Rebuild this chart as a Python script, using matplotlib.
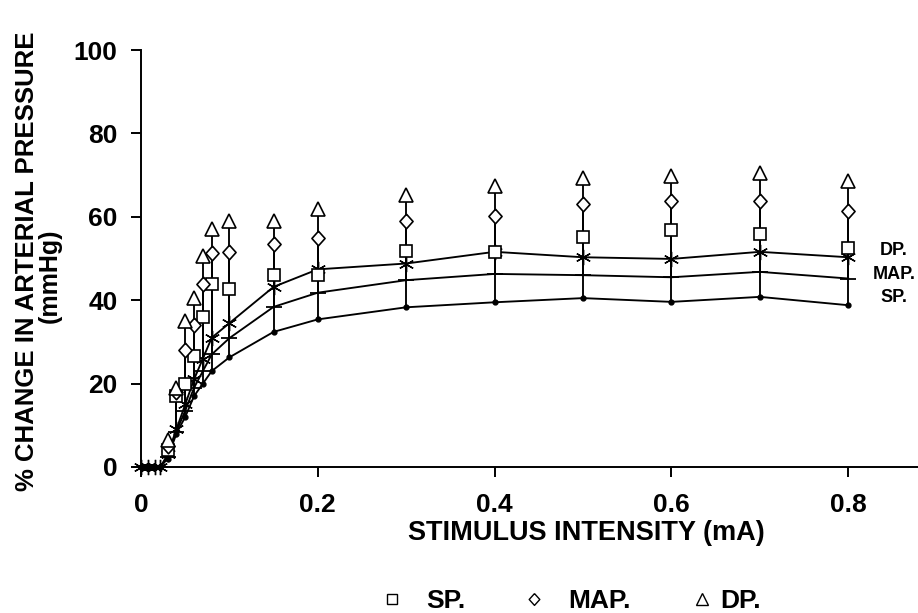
import numpy as np
import matplotlib
matplotlib.use("Agg")
import matplotlib.pyplot as plt
from matplotlib.lines import Line2D

plt.rcParams['font.family'] = ['Liberation Sans', 'DejaVu Sans']
plt.rcParams['font.weight'] = 'bold'

# stimulus intensity (mA)
x = [0, 0.008, 0.016, 0.022, 0.03, 0.04, 0.05, 0.06, 0.07, 0.08, 0.1,
     0.15, 0.2, 0.3, 0.4, 0.5, 0.6, 0.7, 0.8]

# mean % change
dp_mean = [0, 0, 0, 0, 3, 9, 15, 21, 26, 31, 34.5, 43.2, 47.4, 48.8, 51.6, 50.3, 49.9, 51.6, 50.3]
map_mean = [0, 0, 0, 0, 2.5, 8.5, 13.5, 19, 23, 27, 30.9, 38.4, 41.8, 44.8, 46.3, 46.0, 45.5, 46.8, 45.2]
sp_mean = [0, 0, 0, 0, 2, 8, 12, 17, 20, 23, 26.3, 32.4, 35.4, 38.3, 39.5, 40.5, 39.6, 40.8, 38.8]

# upper error-bar ends (mean + SD)
sp_top = [np.nan, np.nan, np.nan, np.nan, 4, 17, 20, 26.5, 36, 43.8, 42.8, 46, 46, 51.8, 51.6, 55.2, 56.8, 55.8, 52.6]
map_top = [np.nan, np.nan, np.nan, np.nan, 5, 18, 28, 34, 44, 51.4, 51.5, 53.4, 54.8, 59.1, 60.2, 63.1, 63.9, 63.9, 61.5]
dp_top = [np.nan, np.nan, np.nan, np.nan, 6.5, 19, 35, 40.6, 50.7, 57, 59.1, 59, 61.8, 65.2, 67.4, 69.2, 69.8, 70.4, 68.7]

xticks = [0, 0.2, 0.4, 0.6, 0.8]
xticklabels = ['0', '0.2', '0.4', '0.6', '0.8']
yticks = [0, 20, 40, 60, 80, 100]
series_labels = ['SP.', 'MAP.', 'DP.']

diamond = [(0, 1), (0.9, 0), (0, -1), (-0.9, 0), (0, 1)]

fig = plt.figure(figsize=(9.18, 6.13), dpi=100)
ax = fig.add_axes([141/918, (613-467)/613, 1 - 141/918, (467-50)/613])

lw = 1.35
# error bars (vertical lines from mean to top)
for mean, top in ((sp_mean, sp_top), (map_mean, map_top), (dp_mean, dp_top)):
    m = np.array(mean); t = np.array(top)
    ok = ~np.isnan(t)
    ax.vlines(np.array(x)[ok], m[ok], t[ok], color='black', lw=lw, zorder=2)

# mean lines
ax.plot(x, sp_mean, color='black', lw=lw, marker='o', ms=3.5, clip_on=False, zorder=3)
ax.plot(x, map_mean, color='black', lw=lw, marker='_', ms=11, mew=1.3, clip_on=False, zorder=3)
ax.plot(x, dp_mean, color='black', lw=lw, marker=(6, 2, 0), ms=11, mew=1.0, clip_on=False, zorder=3)

# error-bar end markers
ax.plot(x, sp_top, ls='none', marker='s', ms=8.5, mfc='white', mec='black', mew=1.2, zorder=4)
ax.plot(x, map_top, ls='none', marker=diamond, ms=10.5, mfc='white', mec='black', mew=1.2, zorder=4)
ax.plot(x, dp_top, ls='none', marker='^', ms=10.5, mfc='white', mec='black', mew=1.2, zorder=4)

ax.set_xlim(0, 777/884)
ax.set_ylim(0, 100)
ax.spines['top'].set_visible(False)
ax.spines['right'].set_visible(False)
for s in ('left', 'bottom'):
    ax.spines[s].set_linewidth(1.4)
ax.set_xticks(xticks)
ax.set_xticklabels(xticklabels)
ax.set_yticks(yticks)
ax.tick_params(axis='both', direction='out', length=7, width=1.4, labelsize=19, pad=12)
ax.tick_params(axis='y', pad=10)
for lab in ax.get_xticklabels() + ax.get_yticklabels():
    lab.set_fontweight('bold')

fig.text(586/918, 1 - 533/613, 'STIMULUS INTENSITY (mA)', ha='center', va='center',
         fontsize=19.5, fontweight='bold')
fig.text(27/918, 1 - 261/613, '% CHANGE IN ARTERIAL PRESSURE', rotation=90,
         ha='center', va='center', fontsize=18.5, fontweight='bold')
fig.text(50/918, 1 - 276/613, '(mmHg)', rotation=90, ha='center', va='center',
         fontsize=18, fontweight='bold')

# right-side series labels
for txt, yy in (('DP.', 250), ('MAP.', 274), ('SP.', 298)):
    fig.text(894/918, 1 - yy/613, txt, ha='center', va='center', fontsize=13, fontweight='bold')

# legend entries (one small legend per entry, to match the original spacing)
handles = [Line2D([], [], ls='none', marker='s', ms=7, mfc='white', mec='black', mew=1.0),
           Line2D([], [], ls='none', marker=diamond, ms=8.5, mfc='white', mec='black', mew=1.0),
           Line2D([], [], ls='none', marker='^', ms=8, mfc='white', mec='black', mew=1.0)]
anchors = [(381, 0.9), (523, 0.9), (691, 0.32)]
for h, lab, (ax_px, pad) in zip(handles, series_labels, anchors):
    fig.legend([h], [lab], loc='center left', bbox_to_anchor=(ax_px/918, 1 - 601/613),
               frameon=False, prop={'size': 19, 'weight': 'bold'}, handlelength=0.8,
               handletextpad=pad, borderpad=0, borderaxespad=0)

fig.savefig('out.png', dpi=100, facecolor='white')
